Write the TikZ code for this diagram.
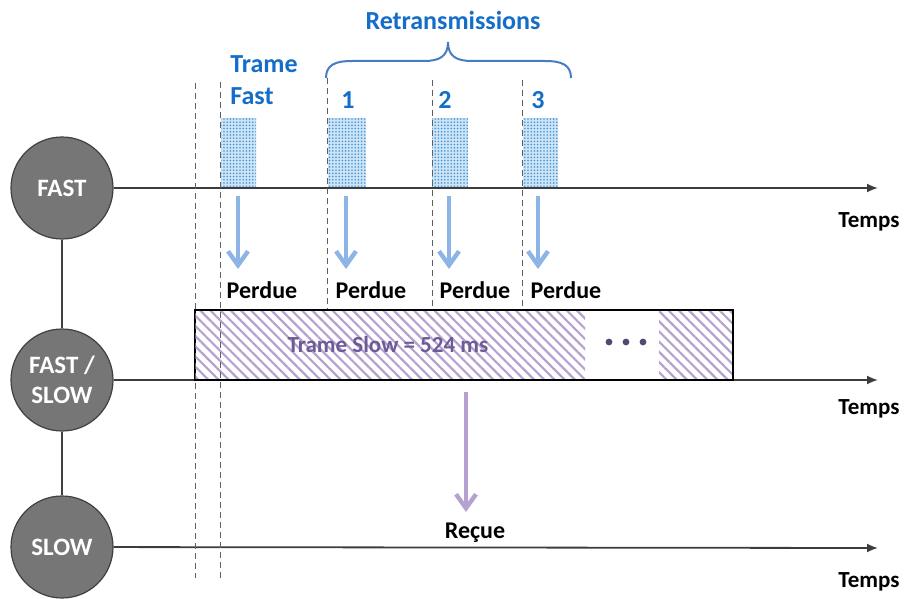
\documentclass[tikz,border=0pt]{standalone}
\usepackage{fontspec}
\setmainfont{Carlito}
\usetikzlibrary{arrows.meta,patterns.meta}
\definecolor{nodeG}{RGB}{118,118,118}
\definecolor{rimG}{RGB}{64,64,64}
\definecolor{axisG}{RGB}{60,60,60}
\definecolor{dashG}{RGB}{95,95,95}
\definecolor{txtBlue}{RGB}{20,110,200}
\definecolor{braceBlue}{RGB}{70,125,195}
\definecolor{arrBlue}{RGB}{140,180,230}
\definecolor{dotBlue}{RGB}{70,150,215}
\definecolor{paleBlue}{RGB}{205,228,246}
\definecolor{hatchPur}{RGB}{182,162,210}
\definecolor{txtPur}{RGB}{110,90,150}
\definecolor{dotPur}{RGB}{85,70,115}

\begin{document}
\begin{tikzpicture}[x=0.5pt,y=-0.5pt,font=\bfseries]
  \tikzset{station/.style={circle,draw=rimG,line width=0.6pt,fill=nodeG,minimum size=51pt,inner sep=0pt,align=center,text=white,font=\fontsize{12.5}{15}\selectfont\bfseries},
    axis/.style={-{Latex[length=5.5pt,width=4.5pt]},line width=0.9pt,axisG},
    timelbl/.style={font=\fontsize{11.5}{13}\selectfont\bfseries},
    bluelbl/.style={text=txtBlue,font=\fontsize{13}{16}\selectfont\bfseries},
    lostlbl/.style={font=\fontsize{12}{14}\selectfont\bfseries},
    lostarrow/.style={-{Straight Barb[length=7pt,width=10pt]},line width=2.2pt,arrBlue},
    slowarrow/.style={-{Straight Barb[length=7pt,width=10pt]},line width=2.2pt,hatchPur},
    fastframe/.style={preaction={fill=paleBlue},pattern={Dots[distance=1.6pt,radius=0.45pt]},pattern color=dotBlue},
    slowframe/.style={pattern={Lines[angle=-45,distance=3.6pt,line width=1.1pt]},pattern color=hatchPur},
    marker/.style={dashed,dash pattern=on 3pt off 2pt,line width=0.5pt,dashG}}
  \useasboundingbox (0,0) rectangle (904,599);
  % stations
  \node[station] (fast) at (62,188) {FAST};
  \node[station] (fastslow) at (62,380) {FAST /\\SLOW};
  \node[station] (slow) at (62,547) {SLOW};
  \draw[line width=0.6pt,rimG] (fast) -- (fastslow);
  \draw[line width=0.6pt,rimG] (fastslow) -- (slow);
  % time axes
  \coordinate (endfast) at (878,188);
  \coordinate (endfs) at (878,380);
  \coordinate (endslow) at (878,548);
  \draw[axis] (fast) -- (endfast);
  \draw[axis] (fastslow) -- (endfs);
  \draw[axis] (slow) -- (endslow);
  \node[timelbl] (t1) at (869,222) {Temps};
  \node[timelbl] (t2) at (869,409) {Temps};
  \node[timelbl] (t3) at (869,582) {Temps};
  % fast frames
  \foreach \x/\w in {221/35,328/38,432/36,523/35} {
    \path[fastframe] (\x,118) rectangle ++(\w,69);
  }
  % slow frame
  \path[slowframe] (195,310) rectangle (585,380) (659,310) rectangle (733,380);
  \draw[line width=0.7pt,black] (195,310) rectangle (733,380);
  \node[text=txtPur,font=\fontsize{11.5}{13}\selectfont\bfseries] (slowtxt) at (388,345) {Trame Slow = 524 ms};
  \foreach \x in {609,626,643} {
    \fill[dotPur] (\x,342) circle (1.7pt);
  }
  % dashed markers
  \foreach \x/\a/\b [count=\i] in {195/83/578,220/82/578,327/78/309,432/80/309,522/80/309} {
    \coordinate (m\i a) at (\x,\a);
    \coordinate (m\i b) at (\x,\b);
    \draw[marker] (m\i a) -- (m\i b);
  }
  % labels on top
  \node[bluelbl,align=left] (trame) at (264,80) {Trame\\Fast};
  \foreach \x/\n in {348/1,445/2,538/3} {
    \node[bluelbl] (r\n) at (\x,100) {\n};
  }
  \draw[braceBlue,line width=1pt] (326,78) .. controls (326,65) and (335,61) .. (352,61) -- (424,61) .. controls (440,61) and (448,56) .. (448,42) .. controls (448,56) and (456,61) .. (472,61) -- (545,61) .. controls (562,61) and (571,65) .. (571,78);
  \node[bluelbl] (retrans) at (453,20) {Retransmissions};
  % losses
  \foreach \x/\p [count=\i] in {238/262,346/371,449/475,538/566} {
    \coordinate (a\i) at (\x,196);
    \coordinate (b\i) at (\x,269);
    \draw[lostarrow] (a\i) -- (b\i);
    \node[lostlbl] (p\i) at (\p,290) {Perdue};
  }
  % reception
  \coordinate (rtop) at (466,392);
  \coordinate (rtip) at (466,512);
  \draw[slowarrow] (rtop) -- (rtip);
  \node[lostlbl] (recue) at (475,533) {Reçue};
\end{tikzpicture}
\end{document}
